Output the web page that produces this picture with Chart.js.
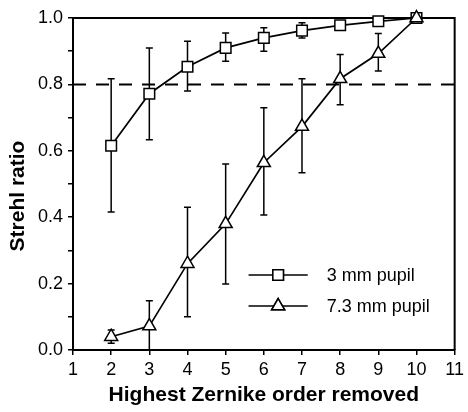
<!DOCTYPE html>
<html>
<head>
<meta charset="utf-8">
<script src="https://cdn.jsdelivr.net/npm/chart.js@4.4.1/dist/chart.umd.min.js"></script>
<style>
  html, body { margin: 0; padding: 0; background: #fff; }
  #wrap { width: 468px; height: 412px; }
</style>
</head>
<body>
<div id="wrap"><canvas id="chart" width="468" height="412"></canvas></div>
<script>
const orders = [2, 3, 4, 5, 6, 7, 8, 9, 10];
const pupil3 = [0.615, 0.772, 0.853, 0.91, 0.94, 0.962, 0.978, 0.99, 1.0];
const pupil3Hi = [0.817, 0.91, 0.93, 0.955, 0.971, 0.986, 0.99, 0.995, 1.0];
const pupil3Lo = [0.416, 0.633, 0.78, 0.87, 0.90, 0.94, 0.965, 0.985, 1.0];
const pupil73 = [0.04, 0.072, 0.26, 0.38, 0.564, 0.673, 0.817, 0.893, 1.0];
const pupil73Hi = [0.06, 0.148, 0.43, 0.56, 0.73, 0.817, 0.89, 0.953, 1.0];
const pupil73Lo = [0.02, 0.0, 0.10, 0.199, 0.407, 0.534, 0.739, 0.84, 1.0];
const threshold = 0.8;
const legendLabels = ["3 mm pupil", "7.3 mm pupil"];
const yTitle = "Strehl ratio";

const FONT = "'Liberation Sans', Arial, sans-serif";
const toPoints = (ys) => orders.map((x, i) => ({ x: x, y: ys[i] }));

const errorBars = {
  id: "errorBars",
  beforeDatasetsDraw(chart) {
    const { ctx, scales } = chart;
    const sets = [[pupil3Hi, pupil3Lo], [pupil73Hi, pupil73Lo]];
    ctx.save();
    ctx.strokeStyle = "#000";
    ctx.lineWidth = 1.5;
    sets.forEach(([hi, lo]) => {
      orders.forEach((x, i) => {
        if (hi[i] === lo[i]) return;
        const px = scales.x.getPixelForValue(x);
        const top = scales.y.getPixelForValue(hi[i]);
        const bot = scales.y.getPixelForValue(lo[i]);
        ctx.beginPath();
        ctx.moveTo(px, top); ctx.lineTo(px, bot);
        ctx.moveTo(px - 3.5, top); ctx.lineTo(px + 3.5, top);
        ctx.moveTo(px - 3.5, bot); ctx.lineTo(px + 3.5, bot);
        ctx.stroke();
      });
    });
    ctx.restore();
  },
  beforeDatasetDraw(chart, args) {
    // frame goes under the markers so the points at 1.0 sit on top of it
    if (args.index !== 0) return;
    const { ctx, chartArea: a } = chart;
    ctx.save();
    ctx.strokeStyle = "#000";
    ctx.lineWidth = 2;
    ctx.beginPath();
    ctx.moveTo(a.left, a.top); ctx.lineTo(a.right, a.top); ctx.lineTo(a.right, a.bottom);
    ctx.stroke();
    ctx.restore();
  },
  afterDraw(chart) {
    const { ctx, scales } = chart;
    ctx.save();

    // y title, drawn by hand so it can sit a bit below centre like the original
    ctx.save();
    ctx.translate(18, 196);
    ctx.rotate(-Math.PI / 2);
    ctx.font = "bold 21px " + FONT;
    ctx.textAlign = "center";
    ctx.textBaseline = "middle";
    ctx.fillStyle = "#000";
    ctx.fillText(yTitle, 0, 0);
    ctx.restore();

    // legend inside plot
    const styles = ["rect", "triangle"];
    const lx0 = scales.x.getPixelForValue(5.6);
    const lx1 = scales.x.getPixelForValue(7.15);
    const rows = [275, 306];
    ctx.font = "18px " + FONT;
    ctx.textBaseline = "middle";
    ctx.fillStyle = "#000";
    ctx.strokeStyle = "#000";
    rows.forEach((y, i) => {
      ctx.lineWidth = 1.7;
      ctx.beginPath();
      ctx.moveTo(lx0, y); ctx.lineTo(lx1, y);
      ctx.stroke();
      ctx.lineWidth = 1.5;
      Chart.helpers.drawPoint(ctx, {
        pointStyle: styles[i], radius: 7.5, borderWidth: 1.5
      }, (lx0 + lx1) / 2, y);
      ctx.fillStyle = "#fff";
      ctx.fill();
      ctx.stroke();
      ctx.fillStyle = "#000";
      ctx.fillText(legendLabels[i], lx1 + 19, y + 1);
    });
    ctx.restore();
  }
};

new Chart(document.getElementById("chart").getContext("2d"), {
  type: "scatter",
  data: {
    datasets: [
      {
        data: [{ x: 1, y: threshold }, { x: 11, y: threshold }],
        showLine: true,
        borderColor: "#000",
        borderWidth: 2,
        borderDash: [13, 10],
        pointRadius: 0,
        order: 3
      },
      {
        label: legendLabels[0],
        data: toPoints(pupil3),
        showLine: true,
        clip: false,
        borderColor: "#000",
        borderWidth: 1.7,
        pointStyle: "rect",
        pointRadius: 7.5,
        pointBorderWidth: 1.5,
        pointBackgroundColor: "#fff",
        pointBorderColor: "#000",
        order: 2
      },
      {
        label: legendLabels[1],
        data: toPoints(pupil73),
        showLine: true,
        clip: false,
        borderColor: "#000",
        borderWidth: 1.7,
        pointStyle: "triangle",
        pointRadius: 7.5,
        pointBorderWidth: 1.5,
        pointBackgroundColor: "#fff",
        pointBorderColor: "#000",
        order: 1
      }
    ]
  },
  options: {
    responsive: false,
    animation: false,
    layout: { padding: { top: 18, right: 10, left: 0, bottom: 0 } },
    plugins: { legend: { display: false }, tooltip: { enabled: false } },
    scales: {
      x: {
        type: "linear",
        min: 1,
        max: 11,
        afterFit: (s) => { s.height = 62; },
        ticks: {
          stepSize: 1,
          color: "#000",
          padding: 4,
          font: { family: FONT, size: 18 }
        },
        grid: { drawOnChartArea: false, tickLength: 5, color: "#000", lineWidth: 1.5 },
        border: { color: "#000", width: 2 },
        title: {
          display: true,
          text: "Highest Zernike order removed",
          color: "#000",
          padding: { top: 0 },
          font: { family: FONT, size: 21, weight: "bold" }
        }
      },
      y: {
        min: 0,
        max: 1,
        afterFit: (s) => { s.width = 73; },
        ticks: {
          stepSize: 0.1,
          color: "#000",
          padding: 5,
          autoSkip: false,
          callback: (v) => (Math.round(v * 10) % 2 === 0 ? v.toFixed(1) : ""),
          font: { family: FONT, size: 18 }
        },
        grid: { drawOnChartArea: false, tickLength: 5, color: "#000", lineWidth: 1.5 },
        border: { color: "#000", width: 2 }
      }
    }
  },
  plugins: [errorBars]
});
</script>
</body>
</html>
